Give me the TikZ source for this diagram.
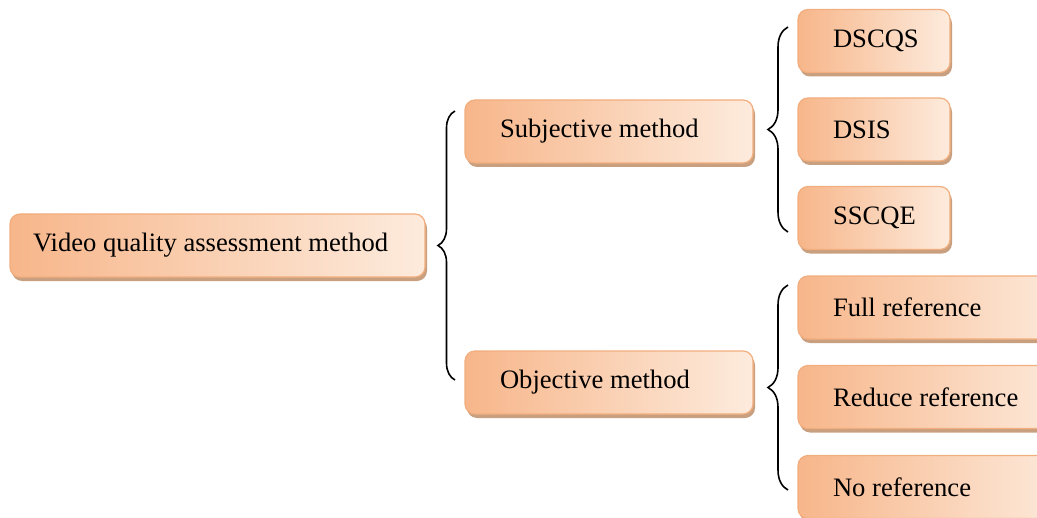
\documentclass[tikz,border=0pt]{standalone}
\usepackage{fontspec}
\setmainfont{Liberation Serif}
\usetikzlibrary{shadows,decorations.pathreplacing}
\definecolor{boxdark}{HTML}{F7B68A}
\definecolor{boxmid}{HTML}{FBD9C0}
\definecolor{boxlight}{HTML}{FDEBDD}
\definecolor{boxedge}{HTML}{F2AE7E}
\definecolor{boxshade}{HTML}{C9A07F}
\begin{document}
\begin{tikzpicture}[x=0.5pt,y=-0.5pt,font=\fontsize{13.3}{16}\selectfont,
  method/.style={draw=boxedge, line width=0.6pt, rounded corners=5pt,
    left color=boxdark, middle color=boxmid, right color=boxlight,
    drop shadow={shadow xshift=1pt, shadow yshift=-2pt, fill=boxshade, opacity=1},
    text width=#1, align=flush left, inner xsep=17.5pt, minimum height=31.5pt},
  groupbrace/.style={decorate, decoration={brace, amplitude=#1}, line width=0.8pt}]
\useasboundingbox (0,0) rectangle (1037,518);
% root
\node[method=184.5pt, inner xsep=11.5pt] (vqa) at (217.5,245.5) {Video quality assessment method};
% second level
\node[method=109pt] (subj) at (609,131.5) {Subjective method};
\node[method=109pt] (obj) at (609,382.5) {Objective method};
% subjective leaves
\node[method=41pt] (dscqs) at (874,41) {DSCQS};
\node[method=41pt] (dsis) at (874,129.5) {DSIS};
\node[method=41pt] (sscqe) at (874,218) {SSCQE};
% objective leaves
\node[method=100pt] (fullref) at (933,307.5) {Full reference};
\node[method=100pt] (redref) at (933,397) {Reduce reference};
\node[method=100pt] (noref) at (933,487) {No reference};
% braces
\coordinate (rootup) at (455,111);
\coordinate (rootdown) at (455,380);
\coordinate (subjup) at (788,27);
\coordinate (subjdown) at (788,232);
\coordinate (objup) at (788,285);
\coordinate (objdown) at (788,490);
\draw[groupbrace=8.5pt] (rootdown) -- (rootup);
\draw[groupbrace=10pt] (subjdown) -- (subjup);
\draw[groupbrace=10pt] (objdown) -- (objup);
\end{tikzpicture}
\end{document}
